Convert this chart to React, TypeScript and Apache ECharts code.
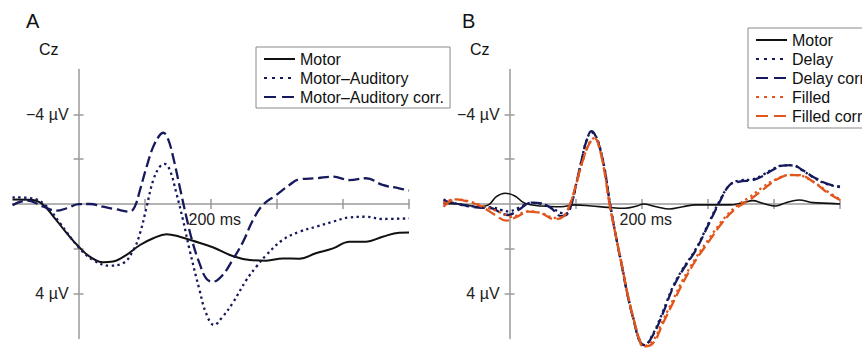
import React, { useEffect, useRef } from "react";
import * as echarts from "echarts";

// ---- Panel A data: [ms, µV] ----
const aMotor: [number, number][] = [
  [-100, -0.2], [-69, -0.18], [-53, 0.05], [-38, 0.56], [-18, 1.3], [0, 1.9], [17, 2.35], [37, 2.6],
  [52, 2.57], [72, 2.28], [93, 1.83], [113, 1.53], [133, 1.35], [153, 1.46], [173, 1.64], [203, 1.93],
  [233, 2.32], [259, 2.5], [284, 2.53], [309, 2.43], [334, 2.44], [359, 2.2], [385, 1.98], [410, 1.68],
  [435, 1.68], [460, 1.46], [485, 1.28], [500, 1.27],
];
const aMotorAud: [number, number][] = [
  [-100, -0.3], [-69, -0.25], [-48, 0.12], [-28, 0.86], [0, 1.93], [22, 2.5], [47, 2.75], [67, 2.65],
  [83, 2.05], [93, 1.3], [103, 0.12], [113, -1.07], [123, -1.67], [130, -1.79], [138, -1.52], [148, -0.48],
  [158, 0.71], [168, 2.05], [183, 3.84], [193, 4.88], [205, 5.4], [218, 5.03], [233, 4.43], [254, 3.39],
  [269, 2.8], [284, 2.28], [309, 1.6], [334, 1.24], [360, 1.01], [385, 0.79], [410, 0.6], [435, 0.57],
  [460, 0.67], [500, 0.64],
];
const aMotorAudCorr: [number, number][] = [
  [-100, 0.05], [-78, -0.15], [-53, 0.12], [-33, 0.3], [-18, 0.19], [0, 0.01], [17, 0], [37, 0.12],
  [57, 0.24], [77, 0.34], [85, 0.12], [93, -0.63], [103, -1.67], [113, -2.56], [123, -3.08], [128, -3.18],
  [135, -2.93], [143, -2.11], [153, -0.77], [163, 0.57], [173, 1.76], [183, 2.65], [193, 3.32], [203, 3.47],
  [218, 3.17], [233, 2.5], [249, 1.68], [264, 0.71], [279, 0.04], [299, -0.4], [319, -0.85], [334, -1.1],
  [360, -1.15], [385, -1.22], [410, -1.07], [435, -1.15], [460, -0.85], [485, -0.7], [500, -0.6],
];

// ---- Panel B data: [ms, µV] ----
const bMotor: [number, number][] = [
  [-100, -0.03], [-72, 0.01], [-47, 0.12], [-32, 0.04], [-20, -0.33], [-7, -0.48], [8, -0.36], [23, -0.03],
  [48, 0.09], [78, 0.12], [99, 0.04], [124, 0.09], [149, 0.15], [174, 0.19], [194, 0.08], [202, 0],
  [222, 0.12], [242, 0.22], [262, 0.12], [282, 0.04], [302, 0.04], [333, 0.04], [353, -0.06], [368, -0.15],
  [383, -0.03], [403, 0.09], [418, -0.06], [438, -0.18], [459, -0.06], [484, -0.03], [500, 0],
];
const bDelay: [number, number][] = [
  [-100, -0.2], [-72, 0.05], [-47, 0.12], [-27, 0.15], [-12, 0.27], [-2, 0.33], [13, 0.18], [33, -0.05],
  [48, 0], [63, 0.15], [78, 0.4], [86, 0.42], [94, -0.03], [101, -0.9], [109, -1.95], [116, -2.8],
  [124, -3.2], [129, -3.1], [136, -2.6], [144, -1.55], [151, -0.2], [159, 1.15], [169, 2.6], [179, 4.1],
  [189, 5.3], [196, 6.05], [204, 6.3], [217, 5.8], [232, 4.8], [247, 3.7], [262, 2.9], [282, 2.0],
  [302, 0.8], [318, -0.15], [333, -0.85], [348, -1.05], [368, -1.1], [383, -1.3], [398, -1.55], [413, -1.72],
  [428, -1.72], [443, -1.5], [459, -1.2], [479, -0.9], [500, -0.75],
];
const bDelayCorr: [number, number][] = [
  [-100, -0.15], [-72, 0.04], [-47, 0.16], [-27, 0.19], [-12, 0.42], [-2, 0.49], [13, 0.27], [33, -0.06],
  [48, -0.03], [63, 0.19], [78, 0.54], [86, 0.49], [94, -0.03], [101, -0.92], [109, -1.96], [116, -2.78],
  [124, -3.25], [129, -3.1], [136, -2.56], [144, -1.52], [151, -0.18], [159, 1.16], [169, 2.65], [179, 4.14],
  [189, 5.33], [196, 6.07], [204, 6.3], [217, 5.85], [232, 4.88], [247, 3.76], [262, 2.95], [282, 2.05],
  [302, 0.86], [318, -0.1], [333, -0.85], [348, -1.0], [368, -1.07], [383, -1.25], [398, -1.52], [413, -1.71],
  [428, -1.74], [443, -1.52], [459, -1.22], [479, -0.92], [500, -0.77],
];
const bFilled: [number, number][] = [
  [-100, -0.05], [-82, -0.21], [-62, -0.12], [-37, 0.12], [-12, 0.4], [3, 0.57], [28, 0.33], [48, 0.4],
  [68, 0.62], [81, 0.55], [91, 0.04], [101, -0.9], [111, -1.95], [121, -2.75], [129, -2.95], [136, -2.5],
  [144, -1.4], [151, -0.05], [160, 1.3], [170, 2.75], [180, 4.2], [190, 5.4], [196, 6.0], [202, 6.35],
  [217, 6.1], [232, 5.2], [247, 4.3], [262, 3.4], [282, 2.4], [303, 1.5], [323, 0.7], [343, 0.1],
  [363, -0.3], [383, -0.75], [403, -1.1], [424, -1.3], [438, -1.28], [459, -1.0], [479, -0.6], [500, -0.2],
];
const bFilledCorr: [number, number][] = [
  [-100, 0.12], [-82, -0.21], [-62, -0.1], [-42, 0.12], [-22, 0.49], [-5, 0.74], [13, 0.54], [28, 0.34],
  [48, 0.42], [68, 0.68], [81, 0.57], [91, 0.04], [101, -0.92], [111, -1.96], [121, -2.71], [129, -2.93],
  [136, -2.49], [144, -1.37], [151, -0.03], [160, 1.3], [170, 2.75], [180, 4.2], [190, 5.4], [196, 6.0],
  [202, 6.37], [217, 6.22], [232, 5.33], [247, 4.43], [262, 3.54], [282, 2.5], [303, 1.61], [323, 0.79],
  [343, 0.19], [363, -0.18], [383, -0.63], [403, -1.07], [424, -1.29], [438, -1.29], [459, -1.0], [479, -0.55],
  [500, -0.18],
];

const xTicks = [100, 200, 300, 400, 500];
const xLabels = [200];
const yTicks = [-4, -2, 2, 4];
const yLabels = [-4, 4];

const NAVY = "#161a5c";
const ORANGE = "#e2561c";
const BLACK = "#111111";
const AXIS = "#9a9a9a";
const FONT = "'Liberation Sans', Arial, Helvetica, sans-serif";
const DOT = [2.4, 3.4];
const DASH = [11, 4.5];
const LEG_DOT = [3, 5];
const LEG_DASH = [12, 6];

// layout (pixels)
const GRID_TOP = 69.6;
const GRID_BOTTOM = 9.6;
const CHART_H = 348;
const X_OFF = -(CHART_H - GRID_BOTTOM - 204); // move x axis up to 0 µV
const X_OFF_TOP = -(204 - GRID_TOP);
const PX_PER_100MS = 66.1;

export default function App() {
  const ref = useRef<HTMLDivElement>(null);
  useEffect(() => {
    if (!ref.current) return;
    const chart = echarts.init(ref.current, undefined, { renderer: "svg" });

    const xAxisBase = (grid: number, main: boolean) => ({
      type: "value",
      gridIndex: grid,
      position: main ? "bottom" : "top",
      offset: main ? X_OFF : X_OFF_TOP,
      min: -100,
      max: 500,
      splitLine: { show: false },
      axisLine: { show: main, onZero: false, lineStyle: { color: AXIS, width: 1.5 } },
      axisTick: { show: true, inside: false, length: 5, customValues: xTicks, lineStyle: { color: AXIS, width: 1.5 } },
      axisLabel: {
        show: main,
        customValues: xLabels,
        formatter: (v: number) => `${v} ms`,
        margin: 7,
        padding: [0, 0, 0, 8],
        fontSize: 16,
        fontFamily: FONT,
        color: "#222",
      },
    });
    const yAxisBase = (grid: number, main: boolean) => ({
      type: "value",
      gridIndex: grid,
      position: main ? "left" : "right",
      offset: main ? -PX_PER_100MS : -(PX_PER_100MS * 5),
      min: -6,
      max: 6,
      inverse: true,
      splitLine: { show: false },
      axisLine: { show: main, onZero: false, lineStyle: { color: AXIS, width: 1.5 } },
      axisTick: { show: true, inside: false, length: 5, customValues: yTicks, lineStyle: { color: AXIS, width: 1.5 } },
      axisLabel: {
        show: main,
        customValues: yLabels,
        formatter: (v: number) => `${v < 0 ? "\u2212" + Math.abs(v) : v} \u00b5V`,
        margin: 10,
        fontSize: 16,
        fontFamily: FONT,
        color: "#222",
      },
    });

    const line = (name: string, data: [number, number][], axis: number, color: string, type: any, width = 2.3) => ({
      type: "line",
      name,
      data,
      xAxisIndex: axis,
      yAxisIndex: axis,
      smooth: 0.4,
      showSymbol: false,
      symbol: "none",
      clip: false,
      lineStyle: { color, width, type },
      itemStyle: { color },
      silent: true,
    });

    const legendCommon = {
      orient: "vertical",
      itemWidth: 31,
      itemHeight: 14,
      itemGap: 3,
      borderColor: "#8a8a8a",
      borderWidth: 1,
      selectedMode: false,
      itemStyle: { color: "rgba(0,0,0,0)", borderWidth: 0 },
      textStyle: { fontSize: 16, fontFamily: FONT, color: "#111" },
    };
    const legItem = (name: string, dash?: number[]) =>
      dash ? { name, lineStyle: { type: dash } } : { name };

    chart.setOption({
      animation: false,
      backgroundColor: "#ffffff",
      grid: [
        { left: 12.5, right: 453, top: GRID_TOP, bottom: GRID_BOTTOM, containLabel: false, outerBoundsMode: "none" },
        { left: 443.5, right: 22, top: GRID_TOP, bottom: GRID_BOTTOM, containLabel: false, outerBoundsMode: "none" },
      ],
      xAxis: [xAxisBase(0, true), xAxisBase(0, false), xAxisBase(1, true), xAxisBase(1, false)],
      yAxis: [yAxisBase(0, true), yAxisBase(0, false), yAxisBase(1, true), yAxisBase(1, false)],
      legend: [
        {
          ...legendCommon,
          left: 256,
          top: 47,
          padding: [4, 6, 3, 7],
          data: [
            legItem("Motor"),
            legItem("Motor\u2013Auditory", LEG_DOT),
            legItem("Motor\u2013Auditory corr.", LEG_DASH),
          ],
        },
        {
          ...legendCommon,
          left: 748,
          top: 28,
          padding: [4, 12, 4, 7],
          data: [
            legItem("Motor"),
            legItem("Delay", LEG_DOT),
            legItem("Delay corr.", LEG_DASH),
            legItem("Filled", LEG_DOT),
            legItem("Filled corr.", LEG_DASH),
          ],
        },
      ],
      graphic: [
        { type: "text", x: 26, y: 21, style: { text: "A", fontSize: 20, fontFamily: FONT, fill: "#111", verticalAlign: "middle" } },
        { type: "text", x: 39, y: 49, style: { text: "Cz", fontSize: 16, fontFamily: FONT, fill: "#111", verticalAlign: "middle" } },
        { type: "text", x: 462, y: 21, style: { text: "B", fontSize: 20, fontFamily: FONT, fill: "#111", verticalAlign: "middle" } },
        { type: "text", x: 470, y: 49, style: { text: "Cz", fontSize: 16, fontFamily: FONT, fill: "#111", verticalAlign: "middle" } },
      ],
      series: [
        line("Motor", aMotor, 0, BLACK, "solid", 2),
        line("Motor\u2013Auditory", aMotorAud, 0, NAVY, DOT),
        line("Motor\u2013Auditory corr.", aMotorAudCorr, 0, NAVY, DASH),
        line("Motor", bMotor, 2, BLACK, "solid", 1.6),
        line("Delay", bDelay, 2, NAVY, DOT),
        line("Delay corr.", bDelayCorr, 2, NAVY, DASH),
        line("Filled", bFilled, 2, ORANGE, DOT),
        line("Filled corr.", bFilledCorr, 2, ORANGE, DASH),
      ],
    });
    return () => chart.dispose();
  }, []);
  return (
    <div
      ref={ref}
      style={{ position: "fixed", left: 0, top: 0, width: 862, height: 348, overflow: "hidden", background: "#fff" }}
    />
  );
}
